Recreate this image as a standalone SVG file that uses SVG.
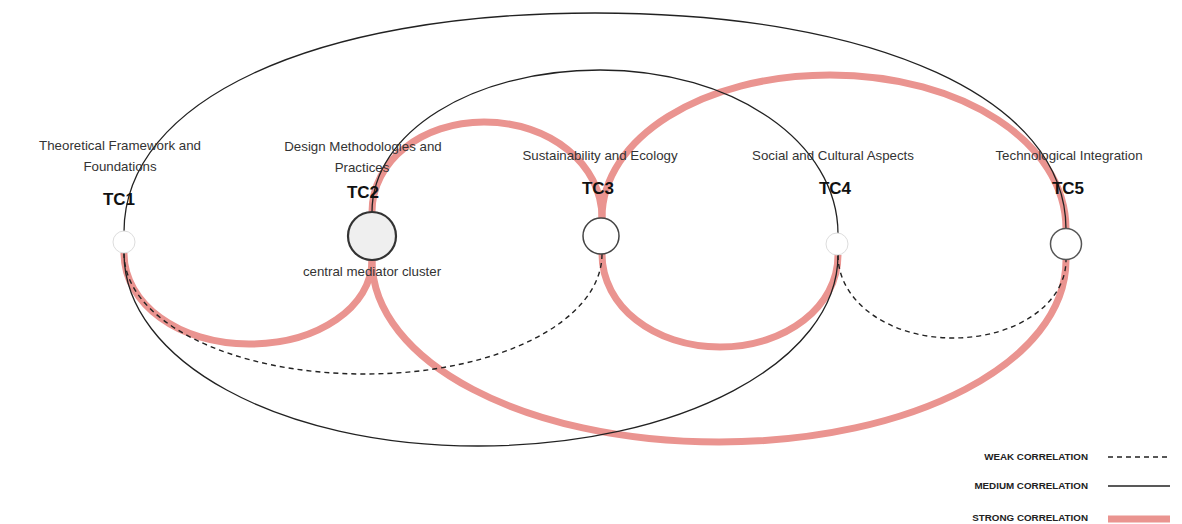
<svg xmlns="http://www.w3.org/2000/svg" width="1182" height="524" viewBox="0 0 1182 524">
<style>
.strong{fill:none;stroke:#ea9490;stroke-width:7;stroke-linecap:butt}
.medium{fill:none;stroke:#222;stroke-width:1.3}
.weak{fill:none;stroke:#222;stroke-width:1.4;stroke-dasharray:5 4}
.lbl{font-family:"Liberation Sans",Arial,sans-serif;font-size:13.3px;fill:#333;text-anchor:middle}
.tc{font-family:"Liberation Sans",Arial,sans-serif;font-size:17px;font-weight:bold;fill:#111;text-anchor:middle}
.leg{font-family:"Liberation Sans",Arial,sans-serif;font-size:9.8px;font-weight:bold;fill:#222;text-anchor:end}
.faint{fill:#fff;stroke:#ddd;stroke-width:1}
</style>
<rect width="1182" height="524" fill="#fff"/>
<g id="connectors">
  <path class="strong" d="M124,253 C124,304 179,344 249,344 C317.9,344 372,307 372,260"/>
  <path class="strong" d="M372,212 C372,161 422,122 484,122 C550,122 602,164 602,218"/>
  <path class="strong" d="M602,218 C602,138 702.3,75 830,75 C962.2,75 1066,142.8 1066,229"/>
  <path class="strong" d="M602,254 C602,306.1 653.9,347 720,347 C786.1,347 838,306.5 838,255"/>
  <path class="strong" d="M372,260 C372,362 524.7,442 719,442 C913.3,442 1066,362 1066,260"/>
  <path class="medium" d="M124,232 C124,100.6 312.4,13 595,13 C877.6,13 1066,99.4 1066,229"/>
  <path class="medium" d="M372,212 C372,132.5 472.3,70 600,70 C733.3,70 838,142.2 838,234"/>
  <path class="medium" d="M124,253 C124,361.1 279.8,446 478,446 C679.6,446 838,362 838,255"/>
  <path class="weak" d="M124,253 C124,320.8 230,374 365,374 C497.7,374 602,321.2 602,254"/>
  <path class="weak" d="M838,255 C838,301.5 888.6,338 953,338 C1016.3,338 1066,303.7 1066,260"/>
</g>
<g id="TC1">
  <circle class="faint" cx="124" cy="242" r="11"/>
  <text class="lbl" x="120" y="150">Theoretical Framework and</text>
  <text class="lbl" x="120" y="171">Foundations</text>
  <text class="tc" x="119" y="205">TC1</text>
</g>
<g id="TC2">
  <circle cx="372" cy="236" r="24" fill="#efefef" stroke="#333" stroke-width="2.2"/>
  <text class="lbl" x="363" y="151">Design Methodologies and</text>
  <text class="lbl" x="362" y="172">Practices</text>
  <text class="tc" x="363" y="198">TC2</text>
  <text class="lbl" x="372" y="276">central mediator cluster</text>
</g>
<g id="TC3">
  <circle cx="601" cy="236" r="18" fill="#fff" stroke="#444" stroke-width="1.5"/>
  <text class="lbl" x="600" y="160">Sustainability and Ecology</text>
  <text class="tc" x="598" y="194">TC3</text>
</g>
<g id="TC4">
  <circle class="faint" cx="837" cy="244" r="11"/>
  <text class="lbl" x="833" y="160">Social and Cultural Aspects</text>
  <text class="tc" x="835" y="194">TC4</text>
</g>
<g id="TC5">
  <circle cx="1066" cy="244" r="15.5" fill="#fff" stroke="#555" stroke-width="1.5"/>
  <text class="lbl" x="1069" y="160">Technological Integration</text>
  <text class="tc" x="1068" y="194">TC5</text>
</g>
<g id="legend">
  <text class="leg" x="1088" y="460">WEAK CORRELATION</text>
  <line class="weak" x1="1108" y1="457" x2="1168" y2="457"/>
  <text class="leg" x="1088" y="489">MEDIUM CORRELATION</text>
  <line class="medium" x1="1108" y1="486" x2="1170" y2="486" stroke-width="1.6"/>
  <text class="leg" x="1088" y="521">STRONG CORRELATION</text>
  <line class="strong" x1="1108" y1="519" x2="1170" y2="519"/>
</g>
</svg>
